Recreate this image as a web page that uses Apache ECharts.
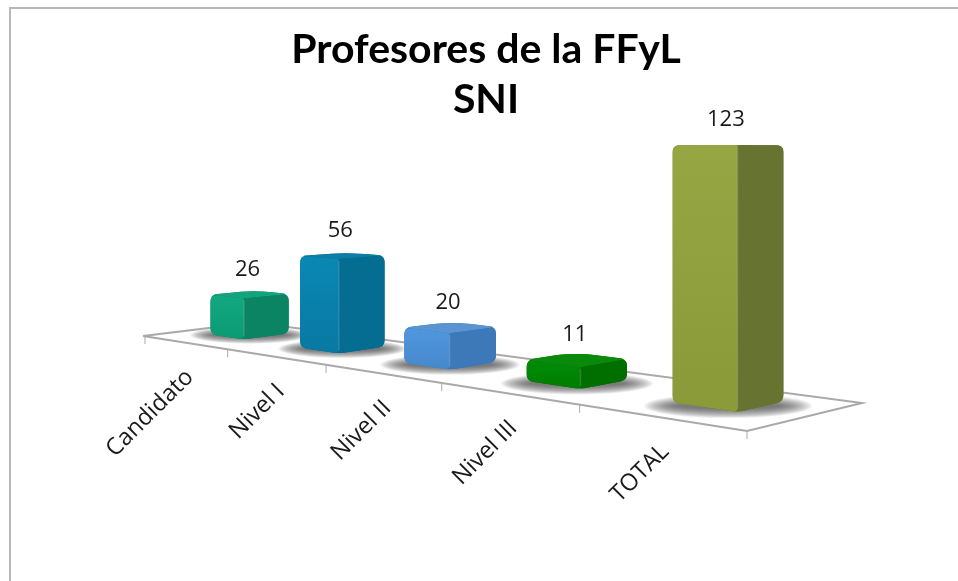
<!DOCTYPE html>
<html>
<head>
<meta charset="utf-8">
<style>html,body{margin:0;padding:0;background:#fff}#c{width:958px;height:581px}</style>
<script src="https://cdn.jsdelivr.net/npm/echarts@6/dist/echarts.min.js"></script>
</head>
<body>
<div id="c"></div>
<script>
const categories = ['Candidato', 'Nivel I', 'Nivel II', 'Nivel III', 'TOTAL'];
const values = [26, 56, 20, 11, 123];
const titleText = 'Profesores de la FFyL\nSNI';

const faceFront = ['#12a881', '#0a87b4', '#4f97de', '#008c08', '#96a643'];
const faceFrontDark = ['#0c9a74', '#0879a3', '#4688cc', '#007c00', '#8a9a38'];
const faceSide = ['#0a8462', '#056c92', '#3d78b8', '#006f00', '#667331'];
const faceTop = ['#14a47d', '#0b7ea6', '#5a94d2', '#0a8a0a', '#7d8c38'];

// Floor quad (perspective plane) and viewing parameters
const FLOOR = {A:[143,336], D:[747,431], C:[862,403], B:[254,322.5]};
const HORIZON = 150, EYE_VALUE = 120.7, Y_MAX = 140;
const BAR_HALF = 0.195, V0 = 0.37, V1 = 0.77;

const H = (function () {
  const [x0,y0]=FLOOR.A,[x1,y1]=FLOOR.D,[x2,y2]=FLOOR.C,[x3,y3]=FLOOR.B;
  const dx1=x1-x2,dx2=x3-x2,sx=x0-x1+x2-x3,dy1=y1-y2,dy2=y3-y2,sy=y0-y1+y2-y3;
  const den=dx1*dy2-dx2*dy1;
  const g=(sx*dy2-dx2*sy)/den,h=(dx1*sy-sx*dy1)/den;
  return {a:x1-x0+g*x1,b:x3-x0+h*x3,c:x0,d:y1-y0+g*y1,e:y3-y0+h*y3,f:y0,g,h};
})();
function floorPt(u,v){
  const w=H.g*u+H.h*v+1;
  return [(H.a*u+H.b*v+H.c)/w,(H.d*u+H.e*v+H.f)/w];
}
function lift(p,ratio){ return [p[0],p[1]-(p[1]-HORIZON)*ratio]; }

function roundPoly(pts,radii){
  const out=[],n=pts.length;
  for(let i=0;i<n;i++){
    const v=pts[i],a=pts[(i+n-1)%n],b=pts[(i+1)%n],r=radii[i];
    if(!r){out.push(v);continue;}
    const la=Math.hypot(a[0]-v[0],a[1]-v[1]),lb=Math.hypot(b[0]-v[0],b[1]-v[1]);
    const da=Math.min(r,la/2)/la,db=Math.min(r,lb/2)/lb;
    const p1=[v[0]+(a[0]-v[0])*da,v[1]+(a[1]-v[1])*da],p2=[v[0]+(b[0]-v[0])*db,v[1]+(b[1]-v[1])*db];
    for(let k=0;k<=6;k++){
      const t=k/6,m=1-t;
      out.push([m*m*p1[0]+2*m*t*v[0]+t*t*p2[0],m*m*p1[1]+2*m*t*v[1]+t*t*p2[1]]);
    }
  }
  return out;
}
function gridInfo(params,api,i,val){
  const cs=params.coordSys,c=api.coord([i,val]);
  return {u:(c[0]-cs.x)/cs.width,ratio:(cs.y+cs.height-c[1])/cs.height*Y_MAX/EYE_VALUE,
          band:api.size([1,0])[0]/cs.width};
}
function lg(c1,c2){
  return new echarts.graphic.LinearGradient(0,0,0,1,[{offset:0,color:c1},{offset:1,color:c2}]);
}

function renderFloor(params,api){
  const i=api.value(0),cs=params.coordSys,kids=[];
  const line={stroke:'#a9a9a9',lineWidth:2,fill:null};
  if(i===0){
    kids.push({type:'polyline',shape:{points:[FLOOR.A,FLOOR.B,FLOOR.C,FLOOR.D,FLOOR.A]},style:line,silent:true});
    const p=floorPt(0,0);
    kids.push({type:'line',shape:{x1:p[0]+2,y1:p[1],x2:p[0]+2,y2:p[1]+8},style:{stroke:'#a9a9a9',lineWidth:1}});
  }
  const u=(api.coord([i,0])[0]-cs.x+api.size([1,0])[0]/2)/cs.width,p=floorPt(u,0);
  kids.push({type:'line',shape:{x1:p[0],y1:p[1],x2:p[0],y2:p[1]+8},style:{stroke:'#a9a9a9',lineWidth:1}});
  return {type:'group',children:kids};
}

function renderShadow(params,api){
  const i=api.value(0),g=gridInfo(params,api,i,0),hw=g.band*BAR_HALF;
  const L=floorPt(g.u-hw,V0),R=floorPt(g.u+hw,V1),F=floorPt(g.u+hw,V0);
  const half=(R[0]-L[0])/2,cx=(L[0]+R[0])/2,cy=F[1]-half*0.11;
  const kids=[];
  const N=18;
  for(let k=0;k<N;k++){
    const t=1-k/N;
    kids.push({type:'ellipse',shape:{cx:cx,cy:cy,rx:half*(0.9+0.62*t),ry:half*(0.04+0.18*t)},
      style:{fill:'rgba(80,80,80,0.065)'}});
  }
  return {type:'group',silent:true,children:kids};
}

function renderBar(params,api){
  const i=api.value(0),val=api.value(1),g=gridInfo(params,api,i,val),hw=g.band*BAR_HALF;
  const u0=g.u-hw,u1=g.u+hw;
  const LB=floorPt(u0,V0),FB=floorPt(u1,V0),RB=floorPt(u1,V1),BB=floorPt(u0,V1);
  const LT=lift(LB,g.ratio),FT=lift(FB,g.ratio),RT=lift(RB,g.ratio),BT=lift(BB,g.ratio);
  const r=Math.min(7,(FB[1]-FT[1])/3);
  const poly=(pts,rad,fill)=>({type:'polygon',shape:{points:roundPoly(pts,rad)},style:{fill:fill}});
  const kids=[
    poly([LB,FB,RB,RT,BT,LT],[r,5,r,r,r*3,r],faceSide[i]),
    poly([LT,BT,RT,FT],[r,r*3,r,0],faceTop[i]),
    poly([LB,FB,FT,LT],[r,5,0,r],lg(faceFront[i],faceFrontDark[i])),
    poly([FB,RB,RT,FT],[5,r,r,0],faceSide[i]),
    {type:'line',shape:{x1:FT[0],y1:FT[1]+2,x2:FB[0],y2:FB[1]-3},style:{stroke:'rgba(255,255,255,0.14)',lineWidth:1.5}}
  ];
  const topC=lift(floorPt(g.u,(V0+V1)/2),g.ratio);
  kids.push({type:'text',x:topC[0]-2,y:topC[1]-25,style:{text:String(val),x:0,y:0,align:'center',verticalAlign:'middle',
    font:'22px "Open Sans"',fill:'#1a1a1a'}});
  const c=floorPt(g.u,0);
  kids.push({type:'text',x:c[0]+6,y:c[1]+31,rotation:Math.PI/4,style:{text:categories[i],x:0,y:0,align:'right',verticalAlign:'middle',
    font:'23.5px "Open Sans"',fill:'#1a1a1a'}});
  return {type:'group',children:kids};
}

const chart=echarts.init(document.getElementById('c'),null,{renderer:'canvas'});
const rows=values.map((v,i)=>[i,v]);
chart.setOption({
  animation:false,
  backgroundColor:'#fff',
  title:{text:titleText,left:481,top:20,textAlign:'center',
    textStyle:{fontFamily:'Lato',fontWeight:'bold',fontSize:41,lineHeight:50,color:'#000'}},
  grid:{left:100,right:100,top:100,bottom:100},
  xAxis:{type:'category',data:categories,show:false},
  yAxis:{type:'value',min:0,max:Y_MAX,show:false},
  tooltip:{show:false},
  graphic:[{type:'polyline',silent:true,z:0,shape:{points:[[10,581],[10,8],[958,8]]},style:{stroke:'#b8b8b8',lineWidth:2,fill:null}}],
  series:[
    {type:'custom',coordinateSystem:'cartesian2d',data:rows,renderItem:renderFloor,encode:{x:0,y:1},silent:true,z:1,clip:false},
    {type:'custom',coordinateSystem:'cartesian2d',data:rows,renderItem:renderShadow,encode:{x:0,y:1},silent:true,z:2,clip:false},
    {type:'custom',coordinateSystem:'cartesian2d',data:rows,renderItem:renderBar,encode:{x:0,y:1},silent:true,z:3,clip:false}
  ]
});
</script>
</body>
</html>
